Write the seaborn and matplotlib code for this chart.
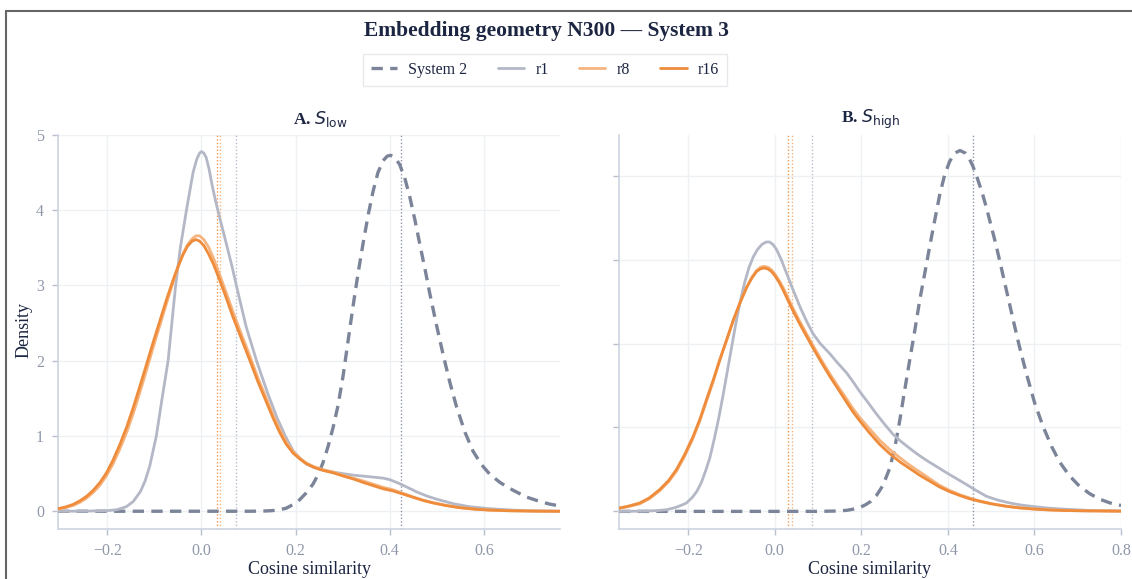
import matplotlib
matplotlib.use("Agg")
import matplotlib.pyplot as plt
from matplotlib.lines import Line2D
from matplotlib.ticker import FuncFormatter
import pandas as pd
import seaborn as sns

# ---- Panel A: S_low densities (cosine similarity vs density) ----
sys2_low_x = [-0.305, 0.10, 0.13, 0.15, 0.166, 0.18, 0.195, 0.209, 0.222, 0.237, 0.248, 0.258,
              0.269, 0.280, 0.290, 0.301, 0.311, 0.322, 0.333, 0.344, 0.355, 0.365, 0.375,
              0.386, 0.395, 0.402, 0.410, 0.421, 0.432, 0.443, 0.454, 0.464, 0.475, 0.485,
              0.500, 0.514, 0.528, 0.542, 0.560, 0.577, 0.595, 0.613, 0.635, 0.662, 0.690,
              0.719, 0.740, 0.762]
sys2_low_y = [0.0, 0.0, 0.002, 0.008, 0.02, 0.04, 0.09, 0.155, 0.24, 0.36, 0.49, 0.64,
              0.86, 1.12, 1.40, 1.80, 2.24, 2.72, 3.17, 3.58, 3.96, 4.26, 4.50,
              4.66, 4.72, 4.73, 4.71, 4.61, 4.43, 4.17, 3.86, 3.55, 3.22, 2.90,
              2.46, 2.07, 1.71, 1.39, 1.05, 0.80, 0.62, 0.49, 0.38, 0.28, 0.19,
              0.13, 0.095, 0.07]

r1_low_x = [-0.305, -0.25, -0.20, -0.18, -0.16, -0.145, -0.13, -0.12, -0.11, -0.096, -0.085,
            -0.071, -0.063, -0.055, -0.045, -0.032, -0.025, -0.018, -0.010, -0.004, 0.0,
            0.005, 0.010, 0.016, 0.023, 0.030, 0.042, 0.053, 0.065, 0.076, 0.095, 0.117,
            0.140, 0.160, 0.178, 0.195, 0.210, 0.223, 0.240, 0.260, 0.280, 0.300, 0.322,
            0.355, 0.386, 0.400, 0.420, 0.440, 0.460, 0.480, 0.500, 0.535, 0.570, 0.610,
            0.662, 0.700, 0.762]
r1_low_y = [0.0, 0.001, 0.008, 0.02, 0.06, 0.13, 0.26, 0.40, 0.60, 1.00, 1.45,
            2.00, 2.50, 3.00, 3.50, 4.00, 4.25, 4.50, 4.68, 4.76, 4.78,
            4.76, 4.70, 4.55, 4.32, 4.12, 3.82, 3.55, 3.25, 2.95, 2.45, 2.00,
            1.58, 1.25, 1.00, 0.80, 0.70, 0.63, 0.58, 0.545, 0.52, 0.50, 0.48,
            0.46, 0.44, 0.42, 0.37, 0.31, 0.25, 0.20, 0.16, 0.10, 0.06, 0.035,
            0.015, 0.006, 0.0]

r8_low_x = [-0.305, -0.29, -0.273, -0.258, -0.244, -0.23, -0.216, -0.202, -0.188, -0.174,
            -0.159, -0.145, -0.131, -0.117, -0.103, -0.088, -0.074, -0.06, -0.05, -0.04,
            -0.03, -0.02, -0.012, -0.004, 0.005, 0.015, 0.025, 0.037, 0.05, 0.067, 0.085,
            0.103, 0.12, 0.138, 0.152, 0.166, 0.18, 0.195, 0.21, 0.223, 0.24, 0.26, 0.28,
            0.30, 0.322, 0.345, 0.365, 0.385, 0.407, 0.43, 0.45, 0.47, 0.492, 0.52, 0.549,
            0.58, 0.61, 0.65, 0.70, 0.762]
r8_low_y = [0.028, 0.046, 0.077, 0.12, 0.175, 0.25, 0.345, 0.47, 0.63, 0.82,
            1.05, 1.30, 1.58, 1.87, 2.17, 2.48, 2.77, 3.05, 3.24, 3.41,
            3.54, 3.62, 3.66, 3.66, 3.61, 3.51, 3.37, 3.17, 2.95, 2.65, 2.35,
            2.06, 1.77, 1.50, 1.28, 1.09, 0.92, 0.79, 0.70, 0.64, 0.59, 0.55, 0.52,
            0.48, 0.44, 0.40, 0.36, 0.32, 0.285, 0.235, 0.19, 0.15, 0.115, 0.078, 0.048,
            0.029, 0.016, 0.007, 0.002, 0.0]

r16_low_x = [-0.305, -0.29, -0.273, -0.258, -0.244, -0.23, -0.216, -0.202, -0.188, -0.174,
             -0.159, -0.145, -0.131, -0.117, -0.103, -0.088, -0.074, -0.06, -0.05, -0.04,
             -0.03, -0.02, -0.012, -0.004, 0.005, 0.015, 0.025, 0.037, 0.05, 0.067, 0.085,
             0.103, 0.12, 0.138, 0.152, 0.166, 0.18, 0.195, 0.21, 0.223, 0.24, 0.26, 0.28,
             0.30, 0.322, 0.345, 0.365, 0.385, 0.407, 0.43, 0.45, 0.47, 0.492, 0.52, 0.549,
             0.58, 0.61, 0.65, 0.70, 0.762]
r16_low_y = [0.035, 0.055, 0.09, 0.14, 0.20, 0.28, 0.38, 0.51, 0.68, 0.88,
             1.12, 1.38, 1.66, 1.95, 2.24, 2.54, 2.82, 3.08, 3.25, 3.40,
             3.52, 3.59, 3.61, 3.59, 3.53, 3.42, 3.29, 3.10, 2.88, 2.58, 2.29,
             2.00, 1.72, 1.45, 1.24, 1.05, 0.89, 0.77, 0.69, 0.63, 0.58, 0.54, 0.51,
             0.47, 0.43, 0.38, 0.34, 0.30, 0.27, 0.225, 0.185, 0.145, 0.11, 0.075, 0.047,
             0.028, 0.016, 0.007, 0.002, 0.0]

# ---- Panel B: S_high densities ----
sys2_high_x = [-0.36, 0.10, 0.14, 0.166, 0.185, 0.196, 0.21, 0.222, 0.235, 0.25, 0.266, 0.278,
               0.289, 0.30, 0.312, 0.324, 0.335, 0.347, 0.358, 0.37, 0.381, 0.392, 0.404,
               0.416, 0.428, 0.44, 0.449, 0.458, 0.468, 0.479, 0.489, 0.50, 0.51, 0.52,
               0.535, 0.55, 0.565, 0.581, 0.60, 0.62, 0.64, 0.658, 0.68, 0.704, 0.728,
               0.751, 0.775, 0.80]
sys2_high_y = [0.0, 0.0, 0.004, 0.012, 0.03, 0.045, 0.08, 0.12, 0.19, 0.31, 0.52, 0.78,
               1.09, 1.44, 1.81, 2.17, 2.52, 2.85, 3.16, 3.48, 3.77, 4.00, 4.17,
               4.27, 4.30, 4.27, 4.21, 4.11, 3.97, 3.80, 3.62, 3.40, 3.20, 2.98,
               2.64, 2.30, 1.97, 1.65, 1.30, 1.01, 0.77, 0.59, 0.43, 0.30, 0.21,
               0.145, 0.10, 0.07]

r1_high_x = [-0.36, -0.30, -0.27, -0.25, -0.23, -0.215, -0.204, -0.19, -0.18, -0.17, -0.16,
             -0.15, -0.14, -0.13, -0.12, -0.11, -0.10, -0.09, -0.08, -0.07, -0.06, -0.05,
             -0.04, -0.03, -0.02, -0.012, -0.004, 0.004, 0.015, 0.027, 0.04, 0.058, 0.074,
             0.088, 0.105, 0.127, 0.145, 0.166, 0.18, 0.196, 0.215, 0.235, 0.255, 0.273,
             0.29, 0.312, 0.33, 0.35, 0.375, 0.397, 0.42, 0.443, 0.465, 0.489, 0.515,
             0.543, 0.57, 0.597, 0.63, 0.658, 0.70, 0.735, 0.77, 0.80]
r1_high_y = [0.0, 0.003, 0.01, 0.02, 0.045, 0.075, 0.10, 0.17, 0.24, 0.34, 0.48,
             0.64, 0.86, 1.10, 1.37, 1.66, 1.95, 2.24, 2.50, 2.72, 2.90, 3.03,
             3.12, 3.18, 3.21, 3.21, 3.18, 3.12, 3.00, 2.84, 2.67, 2.44, 2.26,
             2.12, 2.00, 1.88, 1.77, 1.65, 1.55, 1.43, 1.30, 1.16, 1.03, 0.92,
             0.84, 0.75, 0.68, 0.61, 0.53, 0.46, 0.39, 0.32, 0.25, 0.18, 0.135,
             0.10, 0.075, 0.058, 0.04, 0.03, 0.018, 0.01, 0.007, 0.005]

r8_high_x = [-0.36, -0.34, -0.312, -0.29, -0.266, -0.245, -0.227, -0.208, -0.189, -0.173,
             -0.158, -0.142, -0.127, -0.111, -0.096, -0.08, -0.065, -0.053, -0.042, -0.033,
             -0.025, -0.016, -0.008, 0.0, 0.01, 0.02, 0.03, 0.044, 0.058, 0.073, 0.088,
             0.107, 0.127, 0.146, 0.166, 0.18, 0.196, 0.218, 0.242, 0.265, 0.289, 0.312,
             0.335, 0.358, 0.381, 0.404, 0.427, 0.45, 0.473, 0.5, 0.535, 0.565, 0.597,
             0.63, 0.67, 0.72, 0.80]
r8_high_y = [0.035, 0.055, 0.09, 0.15, 0.245, 0.355, 0.48, 0.66, 0.87, 1.08,
             1.31, 1.55, 1.80, 2.04, 2.27, 2.49, 2.67, 2.79, 2.87, 2.91,
             2.92, 2.91, 2.88, 2.83, 2.75, 2.66, 2.55, 2.40, 2.26, 2.12, 1.98,
             1.81, 1.64, 1.49, 1.34, 1.23, 1.12, 0.99, 0.85, 0.74, 0.64, 0.55,
             0.47, 0.39, 0.31, 0.25, 0.20, 0.16, 0.125, 0.093, 0.062, 0.043, 0.029,
             0.019, 0.011, 0.006, 0.003]

r16_high_x = [-0.36, -0.34, -0.312, -0.29, -0.266, -0.245, -0.227, -0.208, -0.189, -0.173,
              -0.158, -0.142, -0.127, -0.111, -0.096, -0.08, -0.065, -0.053, -0.042, -0.033,
              -0.025, -0.016, -0.008, 0.0, 0.01, 0.02, 0.03, 0.044, 0.058, 0.073, 0.088,
              0.107, 0.127, 0.146, 0.166, 0.18, 0.196, 0.218, 0.242, 0.265, 0.289, 0.312,
              0.335, 0.358, 0.381, 0.404, 0.427, 0.45, 0.473, 0.5, 0.535, 0.565, 0.597,
              0.63, 0.67, 0.72, 0.80]
r16_high_y = [0.04, 0.06, 0.10, 0.16, 0.26, 0.37, 0.50, 0.68, 0.89, 1.10,
              1.33, 1.57, 1.81, 2.05, 2.28, 2.49, 2.67, 2.78, 2.86, 2.89,
              2.90, 2.89, 2.86, 2.81, 2.73, 2.63, 2.52, 2.37, 2.23, 2.09, 1.95,
              1.78, 1.61, 1.46, 1.30, 1.19, 1.08, 0.94, 0.80, 0.69, 0.59, 0.51,
              0.43, 0.36, 0.29, 0.235, 0.19, 0.15, 0.12, 0.09, 0.06, 0.042, 0.028,
              0.018, 0.01, 0.006, 0.003]

# Mean cosine similarity per series (vertical reference lines)
series_names = ["System 2", "r1", "r8", "r16"]
means_low = [0.424, 0.073, 0.040, 0.034]
means_high = [0.457, 0.087, 0.039, 0.030]

panel_titles = ["A. $S_{\\mathrm{low}}$", "B. $S_{\\mathrm{high}}$"]
fig_title = "Embedding geometry N300 \u2014 System 3"
x_label = "Cosine similarity"
y_label = "Density"
y_ticks = [0, 1, 2, 3, 4, 5]
x_ticks_low = [-0.2, 0.0, 0.2, 0.4, 0.6]
x_ticks_high = [-0.2, 0.0, 0.2, 0.4, 0.6, 0.8]

colors = {"System 2": "#7b8498", "r1": "#b4b8c6", "r8": "#f6b47e", "r16": "#ee8c3c"}
mean_colors = {"System 2": "#8e95a8", "r1": "#b9bdca", "r8": "#f6b47e", "r16": "#f09a52"}

panels = [
    {"System 2": (sys2_low_x, sys2_low_y), "r1": (r1_low_x, r1_low_y),
     "r8": (r8_low_x, r8_low_y), "r16": (r16_low_x, r16_low_y)},
    {"System 2": (sys2_high_x, sys2_high_y), "r1": (r1_high_x, r1_high_y),
     "r8": (r8_high_x, r8_high_y), "r16": (r16_high_x, r16_high_y)},
]
panel_means = [means_low, means_high]
panel_xticks = [x_ticks_low, x_ticks_high]
xlims = [(-0.305, 0.762), (-0.36, 0.80)]
ylims = [(-0.236, 5.0), (-0.21, 4.485)]

sns.set_theme(style="white")
plt.rcParams["font.family"] = ["Liberation Serif", "DejaVu Serif"]
plt.rcParams["mathtext.fontset"] = "dejavusans"
plt.rcParams["lines.solid_capstyle"] = "round"
plt.rcParams["lines.solid_joinstyle"] = "round"

W, H = 1132, 579
fig = plt.figure(figsize=(W / 100, H / 100), dpi=100)
fig.patch.set_facecolor("white")

axes_px = [(58, 135, 560, 529), (619, 135, 1121, 529)]
axes = []
for (x0, y0, x1, y1) in axes_px:
    axes.append(fig.add_axes([x0 / W, 1 - y1 / H, (x1 - x0) / W, (y1 - y0) / H]))

tick_color = "#8f97a9"
spine_color = "#cdd4e0"
grid_color = "#eef0f4"
text_color = "#1c2541"

legend_handles = []
for i, ax in enumerate(axes):
    data = panels[i]
    for name in series_names:
        xs, ys = data[name]
        df = pd.DataFrame({"x": xs, "y": ys})
        if name == "System 2":
            sns.lineplot(data=df, x="x", y="y", ax=ax, color=colors[name], lw=2.4,
                         linestyle=(0, (3.4, 2.2)), zorder=3)
        else:
            sns.lineplot(data=df, x="x", y="y", ax=ax, color=colors[name], lw=2.0,
                         zorder=4 if name != "r1" else 3)
        if i == 0:
            legend_handles.append(ax.lines[-1])
    for name, m in zip(series_names, panel_means[i]):
        ax.axvline(m, color=mean_colors[name], lw=1.0, linestyle=(0, (1, 1.5)), zorder=2)

    ax.set_xlim(*xlims[i])
    ax.set_ylim(*ylims[i])
    ax.set_xticks(panel_xticks[i])
    ax.set_yticks(y_ticks if i == 0 else y_ticks[:5])
    ax.xaxis.set_major_formatter(FuncFormatter(
        lambda v, p: ("\u2212" if v < -1e-9 else "") + f"{abs(v):.1f}"))
    if i == 0:
        ax.yaxis.set_major_formatter(FuncFormatter(lambda v, p: f"{v:.0f}"))
    else:
        ax.set_yticklabels([])
    ax.grid(True, color=grid_color, lw=1.0)
    ax.set_axisbelow(True)
    for side in ["top", "right"]:
        ax.spines[side].set_visible(False)
    for side in ["left", "bottom"]:
        ax.spines[side].set_color(spine_color)
        ax.spines[side].set_linewidth(1.2)
    ax.tick_params(axis="both", which="major", direction="out", length=4, width=1,
                   color="#b8c0ce", labelcolor=tick_color, labelsize=11.5, pad=6,
                   bottom=True, left=True)
    ax.set_xlabel("")
    ax.set_ylabel("")

# Panel titles and axis labels
fig.text(320 / W, 1 - 119 / H, panel_titles[0], ha="center", va="center",
         fontsize=12.5, fontweight="bold", color=text_color)
fig.text(870 / W, 1 - 119 / H, panel_titles[1], ha="center", va="center",
         fontsize=12.5, fontweight="bold", color=text_color)
fig.text(310 / W, 1 - 570 / H, x_label, ha="center", va="center", fontsize=13, color=text_color)
fig.text(870 / W, 1 - 570 / H, x_label, ha="center", va="center", fontsize=13, color=text_color)
fig.text(24 / W, 1 - 330 / H, y_label, ha="center", va="center", rotation=90,
         fontsize=13, color=text_color)

# Title
fig.text(546 / W, 1 - 31 / H, fig_title, ha="center", va="center", fontsize=15.5,
         fontweight="bold", color=text_color)

# Legend
leg = fig.legend(legend_handles, series_names, loc="center", bbox_to_anchor=(545 / W, 1 - 70 / H),
                 ncol=4, frameon=True, fancybox=False, fontsize=11.5, handlelength=1.65,
                 columnspacing=1.9, handletextpad=0.7, borderpad=0.5)
leg.get_frame().set_edgecolor("#e2e4e8")
leg.get_frame().set_linewidth(1.0)
for t in leg.get_texts():
    t.set_color(text_color)

# Outer frame
fig.add_artist(Line2D([6 / W, 1.0], [1 - 11 / H, 1 - 11 / H], color="#666666", lw=1.5,
                      transform=fig.transFigure))
fig.add_artist(Line2D([6 / W, 6 / W], [1 - 11 / H, 0.0], color="#666666", lw=1.5,
                      transform=fig.transFigure))

fig.savefig("out.png", dpi=100, facecolor="white")
